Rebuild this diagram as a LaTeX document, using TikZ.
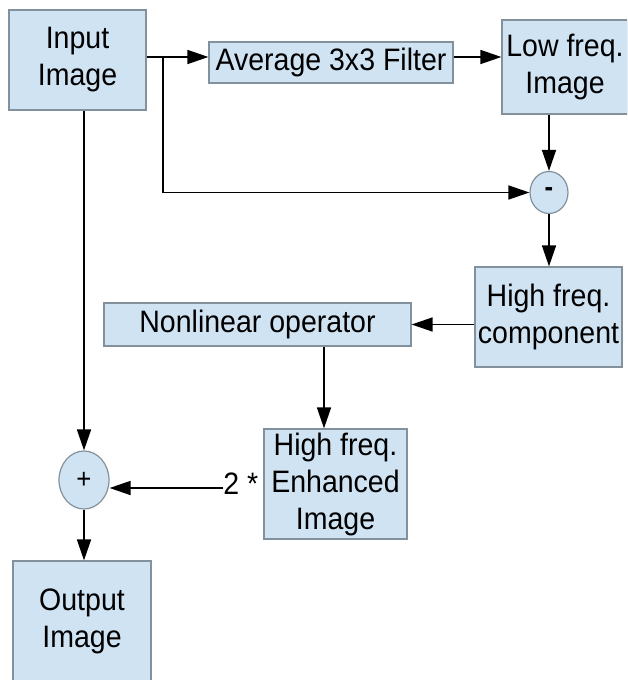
\documentclass[tikz,border=0pt]{standalone}
\usepackage{fontspec}
\setmainfont{Liberation Sans}[FakeStretch=0.92]
\usetikzlibrary{arrows.meta,shapes.geometric}
\definecolor{boxfill}{RGB}{208,227,243}
\definecolor{boxline}{RGB}{130,145,155}
\begin{document}
\begin{tikzpicture}[x=1pt,y=-1pt,
  box/.style={draw=boxline,line width=1.2pt,fill=boxfill,rectangle,inner sep=0pt,align=center,
    font=\fontsize{31}{37}\selectfont},
  opnode/.style={draw=boxline,line width=1.2pt,fill=boxfill,ellipse,inner sep=0pt,
    font=\fontsize{28}{32}\selectfont},
  arr/.style={line width=1.6pt,-{Triangle[length=21pt,width=14pt]}},
  ln/.style={line width=1.6pt}]
\clip (0,0) rectangle (627,680);
\fill[white] (0,0) rectangle (627,680);
\coordinate (ya) at (0,57);
\coordinate (xn) at (324,0);
\coordinate (br) at (163,57);
\node[box,minimum width=137pt,minimum height=100pt] (in) at (77.5,60) {Input\\Image};
\node[box,minimum width=244pt,minimum height=41pt] (avg) at (331,62.5) {Average 3x3 Filter};
\node[box,minimum width=126pt,minimum height=94pt] (low) at (565,67) {Low freq.\\Image};
\node[opnode,minimum width=38pt,minimum height=42pt] (minus) at (549,192.5) {\textbf{-}};
\node[box,minimum width=147pt,minimum height=100pt] (hf) at (548.5,317) {High freq.\\component};
\node[box,minimum width=307pt,minimum height=43pt] (nl) at (257.5,324.5) {Nonlinear operator};
\node[box,minimum width=143pt,minimum height=110pt] (enh) at (335.5,484) {High freq.\\Enhanced\\Image};
\node[opnode,minimum width=50pt,minimum height=58pt] (plus) at (84,480) {+};
\node[box,minimum width=138pt,minimum height=121pt] (out) at (82,621.5) {Output\\Image};
\node[anchor=east,inner sep=0pt,font=\fontsize{31}{37}\selectfont] (two) at ([xshift=-5pt]enh.west) {2 *};
\coordinate (twoa) at ([yshift=-4pt]two.west);
% connectors
\draw[arr] (in.east |- ya) -- (avg.west |- ya);
\draw[arr] (avg.east |- ya) -- (low.west |- ya);
\draw[arr] (br) |- (minus.west);
\draw[arr] (low.south -| minus.north) -- (minus.north);
\draw[arr] (minus.south) -- (hf.north -| minus.south);
\draw[arr] (hf.west |- nl.east) -- (nl.east);
\draw[arr] (nl.south -| xn) -- (enh.north -| xn);
\draw[arr] (twoa) -- (plus.east |- twoa);
\draw[arr] (in.south -| plus.north) -- (plus.north);
\draw[arr] (plus.south) -- (out.north -| plus.south);
\end{tikzpicture}
\end{document}
